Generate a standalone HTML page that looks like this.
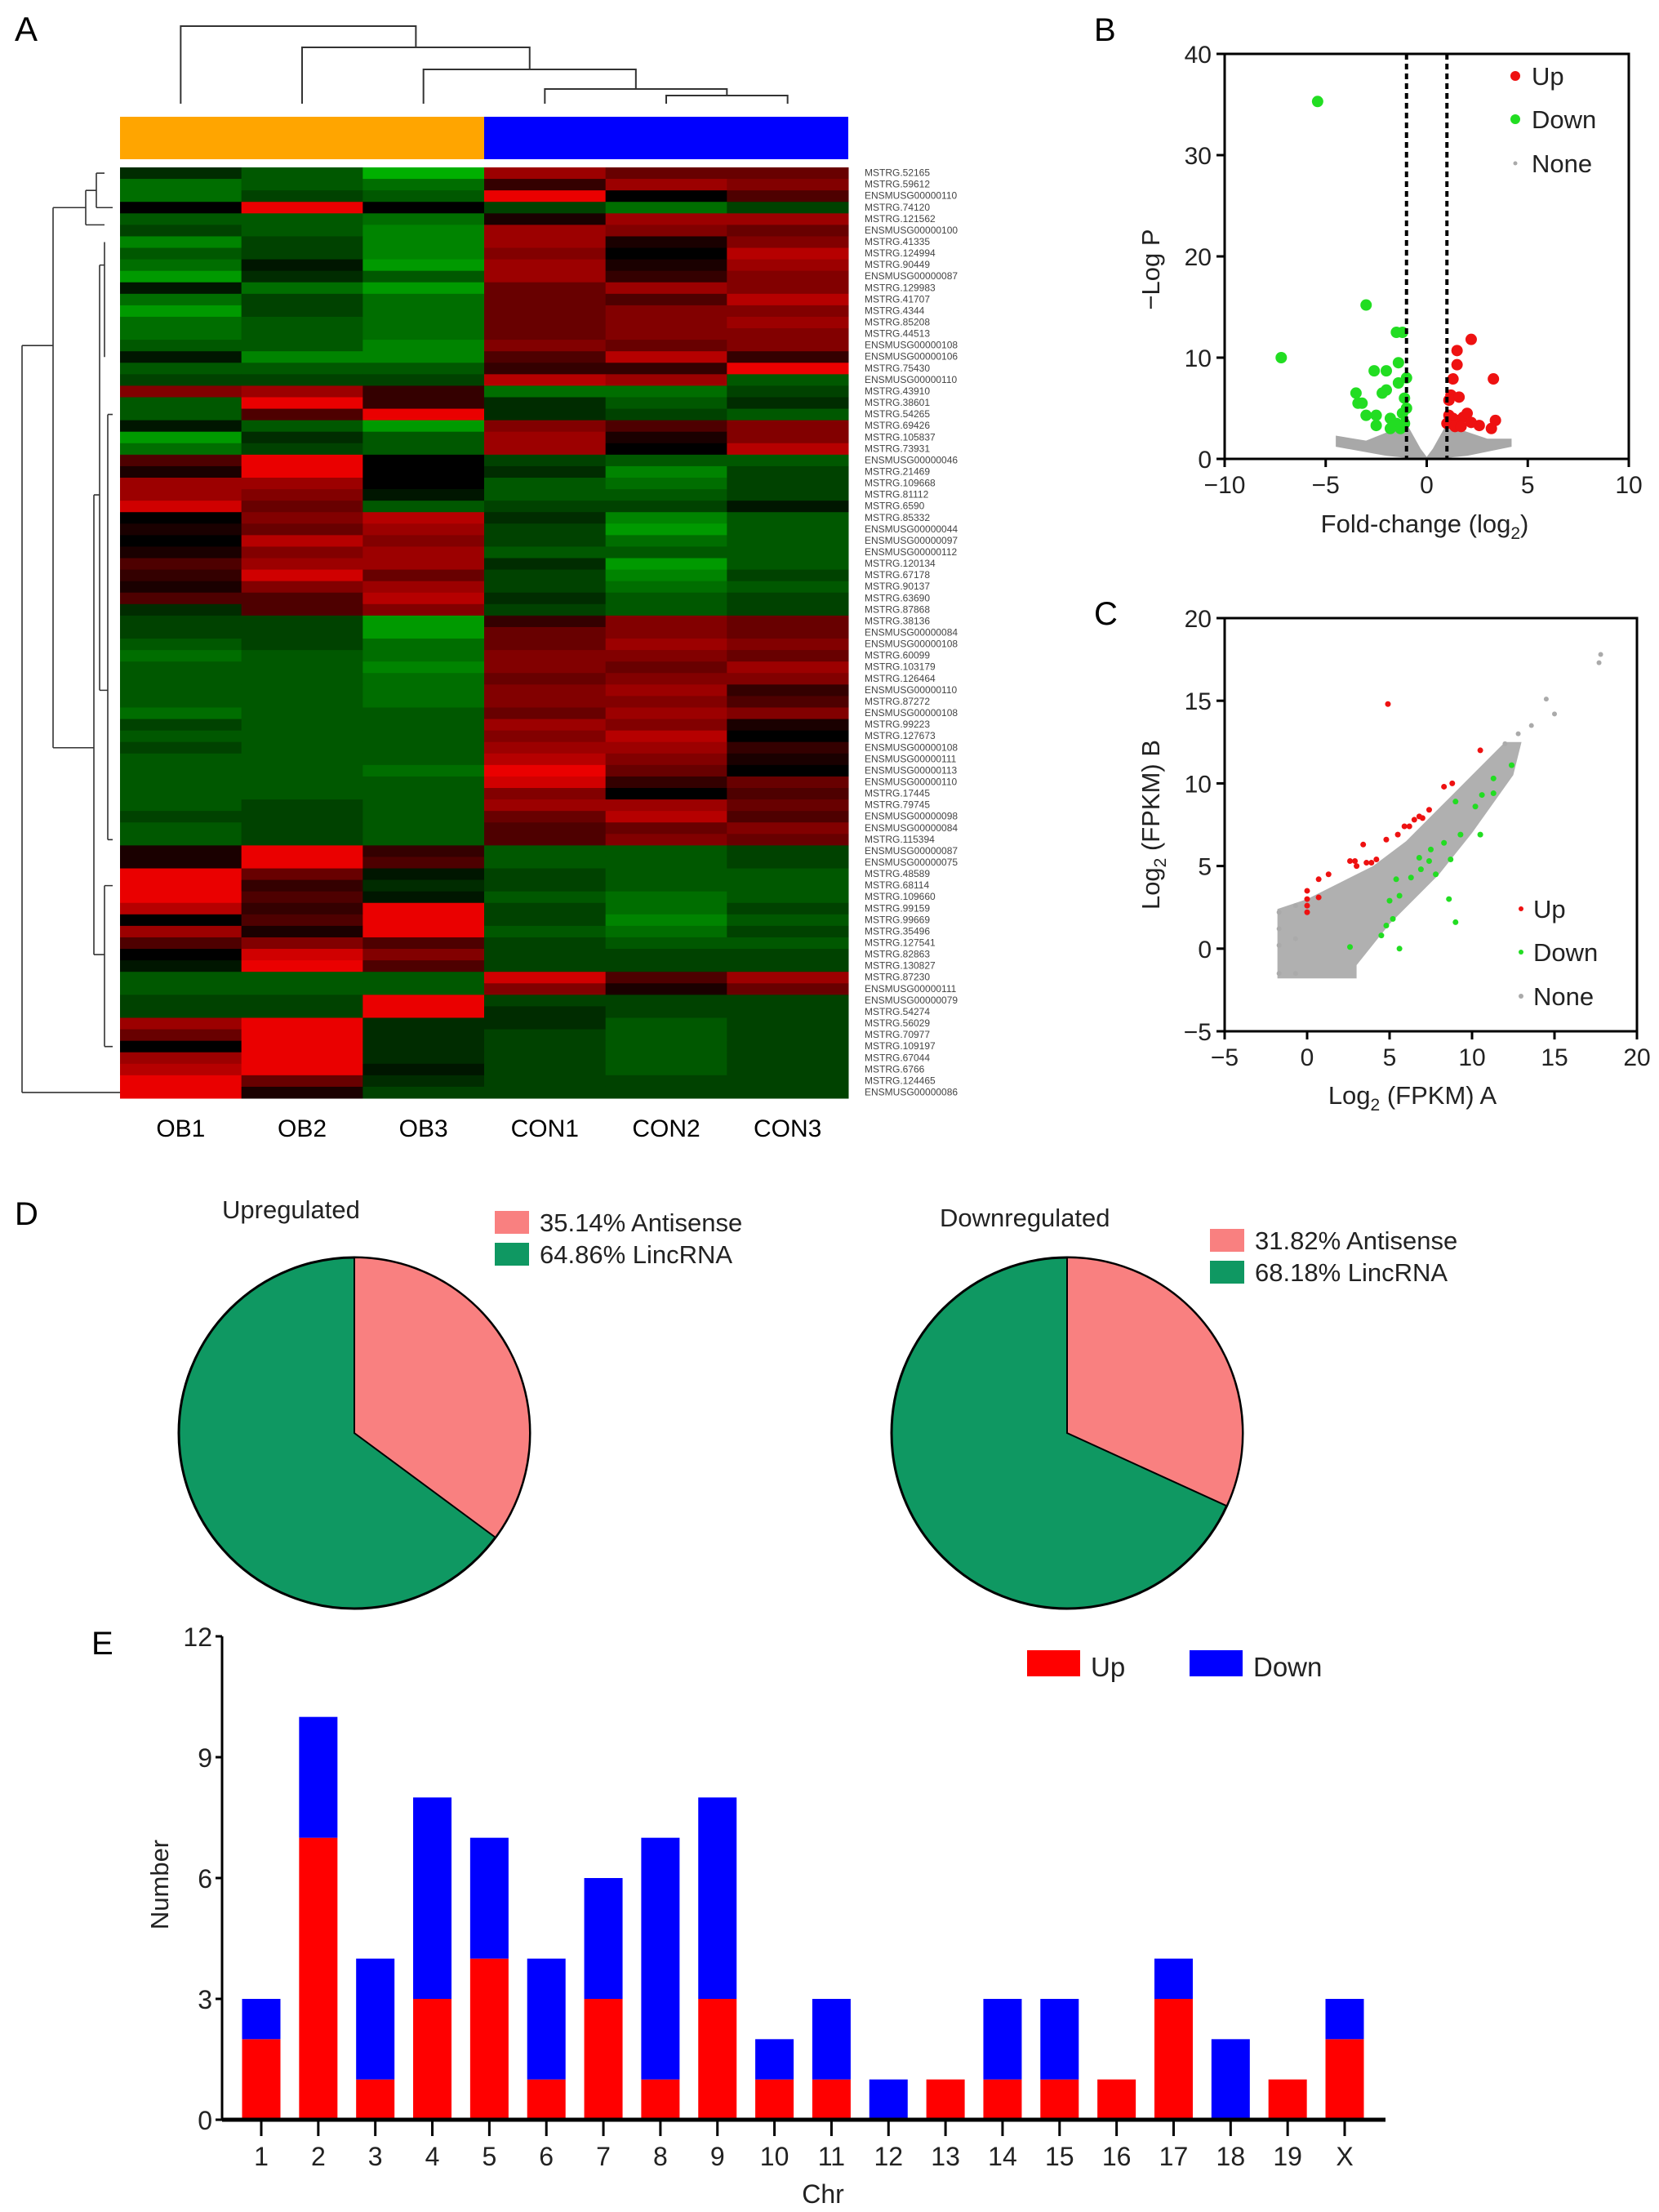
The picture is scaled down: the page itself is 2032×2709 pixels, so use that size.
<!DOCTYPE html>
<html><head><meta charset="utf-8"><style>
html,body{margin:0;padding:0;background:#fff}
svg{display:block;font-family:"Liberation Sans",Arial,sans-serif}
</style></head><body>
<svg id="fig" width="2032" height="2709" viewBox="0 0 2032 2709" xmlns="http://www.w3.org/2000/svg">
<g id="pa"></g>
<g id="pb"></g>
<g id="pc"></g>
<g id="pd"></g>
<g id="pe"></g>
</svg>
<script>
const NS="http://www.w3.org/2000/svg";
function mk(p,t,a,txt){const e=document.createElementNS(NS,t);for(const k in a)e.setAttribute(k,a[k]);if(txt!==undefined)e.textContent=txt;p.appendChild(e);return e;}

// ---------- Panel A data ----------
const hmCols=["OB1","OB2","OB3","CON1","CON2","CON3"];
const hmRows=["MSTRG.52165","MSTRG.59612","ENSMUSG00000110","MSTRG.74120","MSTRG.121562","ENSMUSG00000100","MSTRG.41335","MSTRG.124994","MSTRG.90449","ENSMUSG00000087","MSTRG.129983","MSTRG.41707","MSTRG.4344","MSTRG.85208","MSTRG.44513","ENSMUSG00000108","ENSMUSG00000106","MSTRG.75430","ENSMUSG00000110","MSTRG.43910","MSTRG.38601","MSTRG.54265","MSTRG.69426","MSTRG.105837","MSTRG.73931","ENSMUSG00000046","MSTRG.21469","MSTRG.109668","MSTRG.81112","MSTRG.6590","MSTRG.85332","ENSMUSG00000044","ENSMUSG00000097","ENSMUSG00000112","MSTRG.120134","MSTRG.67178","MSTRG.90137","MSTRG.63690","MSTRG.87868","MSTRG.38136","ENSMUSG00000084","ENSMUSG00000108","MSTRG.60099","MSTRG.103179","MSTRG.126464","ENSMUSG00000110","MSTRG.87272","ENSMUSG00000108","MSTRG.99223","MSTRG.127673","ENSMUSG00000108","ENSMUSG00000111","ENSMUSG00000113","ENSMUSG00000110","MSTRG.17445","MSTRG.79745","ENSMUSG00000098","ENSMUSG00000084","MSTRG.115394","ENSMUSG00000087","ENSMUSG00000075","MSTRG.48589","MSTRG.68114","MSTRG.109660","MSTRG.99159","MSTRG.99669","MSTRG.35496","MSTRG.127541","MSTRG.82863","MSTRG.130827","MSTRG.87230","ENSMUSG00000111","ENSMUSG00000079","MSTRG.54274","MSTRG.56029","MSTRG.70977","MSTRG.109197","MSTRG.67044","MSTRG.6766","MSTRG.124465","ENSMUSG00000086"];
const hmVals=[
[-2,-4,-8,6,4,4],[-5,-4,-5,2,6,5],[-5,-3,-4,9,0,3],[0,9,0,-3,-5,-3],[-4,-4,-5,1,6,6],[-3,-4,-6,6,5,4],[-6,-3,-6,6,1,5],[-4,-3,-6,5,0,7],[-5,-1,-7,6,1,6],[-7,-2,-4,6,2,5],
[-1,-5,-7,4,6,5],[-5,-3,-5,4,3,7],[-7,-3,-5,4,5,5],[-5,-4,-5,4,5,6],[-5,-4,-5,4,5,5],[-4,-4,-6,5,4,5],[-1,-6,-6,3,7,2],[-4,-4,-4,2,2,9],[-3,-3,-3,7,6,-4],[5,6,2,-5,-5,-3],
[-4,9,2,-2,-4,-2],[-4,3,9,-2,-3,-4],[-1,-4,-7,5,3,5],[-7,-2,-4,6,1,5],[-5,-3,-4,6,0,7],[3,9,0,-3,-4,-4],[1,9,0,-2,-6,-3],[6,6,0,-4,-5,-3],[6,5,-1,-4,-4,-3],[8,4,-4,-3,-3,-1],
[0,5,7,-2,-6,-4],[1,4,6,-3,-7,-4],[0,7,5,-3,-5,-4],[1,5,6,-4,-4,-4],[3,6,6,-2,-7,-4],[2,8,4,-3,-6,-3],[1,5,6,-3,-5,-4],[3,3,7,-2,-4,-3],[-2,3,5,-3,-4,-3],[-3,-3,-7,2,5,4],
[-3,-3,-7,4,5,4],[-4,-3,-5,4,6,5],[-5,-4,-5,5,5,4],[-4,-4,-6,5,4,6],[-4,-4,-5,4,5,5],[-4,-4,-5,5,6,2],[-4,-4,-5,5,5,3],[-5,-4,-4,4,6,5],[-3,-4,-4,6,5,1],[-4,-4,-4,5,7,0],
[-3,-4,-4,6,6,2],[-4,-4,-4,7,5,1],[-4,-4,-5,9,4,0],[-4,-4,-4,8,2,4],[-4,-4,-4,5,0,3],[-4,-3,-4,6,6,4],[-3,-3,-4,4,7,3],[-4,-3,-4,3,4,5],[-4,-3,-4,3,5,4],[1,9,2,-4,-4,-3],
[1,9,3,-4,-4,-3],[9,4,-1,-3,-4,-4],[9,2,-2,-3,-4,-4],[9,3,-1,-4,-5,-4],[7,2,9,-3,-5,-3],[0,3,9,-3,-6,-4],[6,1,9,-4,-5,-3],[3,5,3,-3,-4,-4],[0,8,5,-3,-3,-3],[-1,9,3,-3,-3,-3],
[-4,-4,-4,8,3,6],[-4,-4,-4,5,1,4],[-3,-3,9,-3,-3,-3],[-3,-3,9,-2,-3,-3],[6,9,-2,-2,-4,-3],[4,9,-2,-3,-4,-3],[0,9,-2,-3,-4,-3],[6,9,-2,-3,-4,-3],[7,9,-1,-3,-4,-3],[9,4,-2,-3,-3,-3],[9,1,-3,-3,-3,-3]];

// ---------- Panel B data ----------
const volDownX=[-5.4,-7.2,-3,-1.5,-1.2,-2.6,-2,-1.4,-3.5,-3.4,-3.2,-2.2,-1.4,-1.0,-2.5,-1.8,-1.5,-1.2,-1,-2.5,-1.3,-1.8,-1.1,-2,-3,-1.1];
const volDownY=[35.3,10,15.2,12.5,12.5,8.7,8.7,9.5,6.5,5.5,5.5,6.5,7.5,8,4.3,4,3.5,4.5,5,3.3,3,3,6,6.8,4.3,3.5];
const volUpX=[2.2,1.5,1.5,1.3,3.3,1.2,1.6,1.1,1.1,1.3,1.5,1.8,2,2.6,3.4,3.2,1.0,1.4,2.2,1.7];
const volUpY=[11.8,10.7,9.3,7.9,7.9,6.3,6.1,5.8,4.3,4,3.8,4.1,4.5,3.3,3.8,3,3.5,3.2,3.6,3.2];
const volNoneX=[-4.5,-3,-1.5,-1,-0.3,0,0.3,1,1.5,3,4.2,4.2,2,0.5,-0.5,-2,-4.5];
const volNoneY=[2.3,1.8,3,3.5,1,0.2,1,3.5,3,2,2,1.2,0.3,0,0,0.3,1.2];

// ---------- Panel C data ----------
const scUpX=[4.9,10.5,8.3,8.8,6.8,7,6.2,5.9,5.5,4.8,3.4,4.2,3.9,3.6,3,2.9,1.3,0.7,0,0,0,0,0.7,2.6,6.5,7.4];
const scUpY=[14.8,12,9.8,10,8,7.9,7.4,7.4,6.9,6.6,6.3,5.4,5.2,5.2,5,5.3,4.5,4.2,3.5,3,2.6,2.2,3.1,5.3,7.8,8.4];
const scDownX=[12.4,11.3,11.3,10.6,10.2,9,9.3,10.5,8.3,7.5,8.7,7.4,6.9,6.3,5.4,5.6,5,8.6,9,5.6,4.8,5.2,4.5,2.6,6.8,7.8];
const scDownY=[11.1,10.3,9.4,9.3,8.6,8.9,6.9,6.9,6.4,6,5.4,5.3,4.8,4.3,4.2,3.2,2.9,3,1.6,0,1.4,1.8,0.8,0.1,5.5,4.5];
const scNoneX=[17.8,17.7,14.5,15,13.6,12.8,12,-1.7,-1.7,-1.7,-1.7,-0.7,-0.7,-0.7];
const scNoneY=[17.8,17.3,15.1,14.2,13.5,13,12.4,2.2,1.2,0.2,-1.5,2.6,0.6,-1.5];
const scBandX=[-1.8,3,3,5,8,10,12.5,13,12,10,8,6,4,2,0,-1.8];
const scBandY=[-1.8,-1.8,-1,1.5,4.5,7,10.5,12.5,12.5,10.5,8.5,6.5,5,4,3,2.4];

// ---------- Panel D data ----------
const pieTitles=["Upregulated","Downregulated"];
const pieAntisense=[35.14,31.82];
const pieLinc=[64.86,68.18];

// ---------- Panel E data ----------
const chrLabels=["1","2","3","4","5","6","7","8","9","10","11","12","13","14","15","16","17","18","19","X"];
const chrUp=[2,7,1,3,4,1,3,1,3,1,1,0,1,1,1,1,3,0,1,2];
const chrDown=[1,3,3,5,3,3,3,6,5,1,2,1,0,2,2,0,1,2,0,1];
const eTicks=[0,3,6,9,12];

// ======== Panel A ========
(function(){
const g=document.getElementById('pa');
const t=mk(g,'text',{x:18,y:50,'font-size':42});
t.textContent='A';


const x0=147,x1=1039,y0=205,y1=1345;
const cw=(x1-x0)/hmCols.length, rh=(y1-y0)/hmRows.length;
const ob=mk(g,'rect',{x:x0,y:143,width:cw*3,height:52,fill:'#ffa500'});


const cb=mk(g,'rect',{x:x0+cw*3,y:143,width:cw*3,height:52,fill:'#0000ff'});


function col(v){const a=Math.abs(v);if(v>=0)return 'rgb('+Math.min(240,Math.round(a*26))+',0,0)';return 'rgb(0,'+Math.min(200,Math.round(a*22))+',0)';}
hmVals.forEach((row,i)=>{row.forEach((v,j)=>{
 const r=mk(g,'rect',{x:x0+j*cw,y:y0+i*rh,width:cw+0.5,height:rh+0.5,fill:col(v)});
 
 
});
 const l=mk(g,'text',{x:1059,y:y0+i*rh+rh*0.75,'font-size':12,fill:'#444','font-family':'Liberation Sans Narrow, Liberation Sans, sans-serif'},hmRows[i]);
 
 
});
hmCols.forEach((c,j)=>{
 const l=mk(g,'text',{x:x0+(j+.5)*cw,y:1392,'font-size':30,'text-anchor':'middle'},c);
 
 
});
const cx=j=>x0+(j+.5)*cw;
const d='M'+cx(4)+',127V117H'+cx(5)+'V127 M'+cx(3)+',127V109H'+((cx(4)+cx(5))/2)+'V117 M'+cx(2)+',127V85H'+((cx(3)+(cx(4)+cx(5))/2)/2)+'V109 M'+cx(1)+',127V58H'+((cx(2)+(cx(3)+(cx(4)+cx(5))/2)/2)/2)+'V85 M'+cx(0)+',127V32H'+((cx(1)+(cx(2)+(cx(3)+(cx(4)+cx(5))/2)/2)/2)/2)+'V58';
const td=mk(g,'path',{d:d,fill:'none',stroke:'#333','stroke-width':2});


const ry=i=>y0+(i+.5)*rh;
const ld='M27,'+ry(15)+'V'+ry(80)+' M27,'+ry(15)+'H65 M27,'+ry(80)+'H138 M65,'+ry(3)+'V'+ry(50)+' M65,'+ry(3)+'H105 M65,'+ry(50)+'H115 M105,'+ry(1.5)+'V'+ry(4.5)+' M105,'+ry(1.5)+'H118 M105,'+ry(4.5)+'H128 M118,'+ry(0)+'V'+ry(3)+' M118,'+ry(0)+'H128 M118,'+ry(3)+'H138 M115,'+ry(28)+'V'+ry(68)+' M115,'+ry(28)+'H122 M115,'+ry(68)+'H128 M122,'+ry(8)+'V'+ry(45)+' M122,'+ry(8)+'H128 M122,'+ry(45)+'H132 M128,'+ry(62)+'V'+ry(76)+' M128,'+ry(62)+'H138 M128,'+ry(76)+'H138 M132,'+ry(21)+'V'+ry(58)+' M132,'+ry(21)+'H138 M132,'+ry(58)+'H138 M128,'+ry(6)+'V'+ry(16)+' M138,'+ry(80)+'H147';
const lp=mk(g,'path',{d:ld,fill:'none',stroke:'#333','stroke-width':1.6});


})();

// ======== Panel B ========
(function(){
const g=document.getElementById('pb');
const L=1500,R=1995,T=66,B=562;
const X=v=>L+(v+10)/20*(R-L), Y=v=>B-v/40*(B-T);
const lab=mk(g,'text',{x:1340,y:50,'font-size':40},'B');


let pts=volNoneX.map((x,i)=>X(x)+','+Y(volNoneY[i])).join(' ');
const poly=mk(g,'polygon',{points:pts,fill:'#a8a8a8'});


volDownX.forEach((x,i)=>{const c=mk(g,'circle',{cx:X(x),cy:Y(volDownY[i]),r:7,fill:'#22dd22'});

});
volUpX.forEach((x,i)=>{const c=mk(g,'circle',{cx:X(x),cy:Y(volUpY[i]),r:7,fill:'#ee1111'});

});
[-1,1].forEach(v=>{const l=mk(g,'line',{x1:X(v),x2:X(v),y1:T,y2:B,stroke:'#000','stroke-width':4,'stroke-dasharray':'7,5'});

});
const fr=mk(g,'rect',{x:L,y:T,width:R-L,height:B-T,fill:'none',stroke:'#000','stroke-width':3});


[0,10,20,30,40].forEach(v=>{mk(g,'line',{x1:L-10,x2:L,y1:Y(v),y2:Y(v),stroke:'#000','stroke-width':3});
const t=mk(g,'text',{x:L-16,y:Y(v)+11,'font-size':30,'text-anchor':'end',fill:'#222'},v);

});
[-10,-5,0,5,10].forEach(v=>{mk(g,'line',{x1:X(v),x2:X(v),y1:B,y2:B+10,stroke:'#000','stroke-width':3});
const t=mk(g,'text',{x:X(v),y:B+42,'font-size':30,'text-anchor':'middle',fill:'#222'},v<0?'\u2212'+(-v):v);

});
const xt=mk(g,'text',{x:1745,y:652,'font-size':31,'text-anchor':'middle',fill:'#222'});
xt.innerHTML='Fold-change (log<tspan font-size="21" dy="8">2</tspan><tspan dy="-8">)</tspan>';


const yt=mk(g,'text',{x:0,y:0,'font-size':31,'text-anchor':'middle',fill:'#222',transform:'translate(1420,330) rotate(-90)'},'\u2212Log P');


[['Up','#ee1111',6,93],['Down','#22dd22',6,146],['None','#aaa',2.5,200]].forEach(e=>{
 const c=mk(g,'circle',{cx:1856,cy:e[3],r:e[2],fill:e[1]});
 
 
 const t=mk(g,'text',{x:1876,y:e[3]+11,'font-size':31,fill:'#222'},e[0]);
 
 
});
})();

// ======== Panel C ========
(function(){
const g=document.getElementById('pc');
const L=1500,R=2005,T=757,B=1263;
const X=v=>L+(v+5)/25*(R-L), Y=v=>B-(v+5)/25*(B-T);
const lab=mk(g,'text',{x:1340,y:765,'font-size':40},'C');


const poly=mk(g,'polygon',{points:scBandX.map((x,i)=>X(x)+','+Y(scBandY[i])).join(' '),fill:'#b0b0b0'});


scNoneX.forEach((x,i)=>{const c=mk(g,'circle',{cx:X(x),cy:Y(scNoneY[i]),r:3,fill:'#aaa'});

});
scUpX.forEach((x,i)=>{const c=mk(g,'circle',{cx:X(x),cy:Y(scUpY[i]),r:3.5,fill:'#ee1111'});

});
scDownX.forEach((x,i)=>{const c=mk(g,'circle',{cx:X(x),cy:Y(scDownY[i]),r:3.5,fill:'#22dd22'});

});
const fr=mk(g,'rect',{x:L,y:T,width:R-L,height:B-T,fill:'none',stroke:'#000','stroke-width':3});


[-5,0,5,10,15,20].forEach(v=>{mk(g,'line',{x1:L-10,x2:L,y1:Y(v),y2:Y(v),stroke:'#000','stroke-width':3});
const t=mk(g,'text',{x:L-16,y:Y(v)+11,'font-size':30,'text-anchor':'end',fill:'#222'},v<0?'\u2212'+(-v):v);


mk(g,'line',{x1:X(v),x2:X(v),y1:B,y2:B+10,stroke:'#000','stroke-width':3});
const t2=mk(g,'text',{x:X(v),y:B+42,'font-size':30,'text-anchor':'middle',fill:'#222'},v<0?'\u2212'+(-v):v);

});
const xt=mk(g,'text',{x:1730,y:1352,'font-size':31,'text-anchor':'middle',fill:'#222'});
xt.innerHTML='Log<tspan font-size="21" dy="8">2</tspan><tspan dy="-8"> (FPKM) A</tspan>';


const yt=mk(g,'text',{x:0,y:0,'font-size':31,'text-anchor':'middle',fill:'#222',transform:'translate(1420,1010) rotate(-90)'});
yt.innerHTML='Log<tspan font-size="21" dy="8">2</tspan><tspan dy="-8"> (FPKM) B</tspan>';


[['Up','#ee1111',1113],['Down','#22dd22',1166],['None','#aaa',1220]].forEach(e=>{
 const c=mk(g,'circle',{cx:1863,cy:e[2],r:3,fill:e[1]});
 
 
 const t=mk(g,'text',{x:1878,y:e[2]+11,'font-size':31,fill:'#222'},e[0]);
 
 
});
})();

// ======== Panel D ========
(function(){
const g=document.getElementById('pd');
const lab=mk(g,'text',{x:18,y:1500,'font-size':40},'D');


const centers=[[434,1755],[1307,1755]], r=215;
const titlePos=[[272,1492],[1151,1502]];
const legPos=[[606,1483],[1482,1505]];
pieTitles.forEach((ti,i)=>{
 const [cx,cy]=centers[i];
 const a=pieAntisense[i]/(pieAntisense[i]+pieLinc[i])*2*Math.PI;
 const ex=cx+r*Math.sin(a), ey=cy-r*Math.cos(a);
 const lc=mk(g,'circle',{cx:cx,cy:cy,r:r,fill:'#0f9862',stroke:'#000','stroke-width':3});
 
 
 const s=mk(g,'path',{d:'M'+cx+','+cy+'L'+cx+','+(cy-r)+'A'+r+','+r+' 0 '+(a>Math.PI?1:0)+' 1 '+ex+','+ey+'Z',fill:'#f98080',stroke:'#000','stroke-width':2});
 
 
 const t=mk(g,'text',{x:titlePos[i][0],y:titlePos[i][1],'font-size':31,fill:'#222'},ti);
 
 
 const [lx,ly]=legPos[i];
 const s1=mk(g,'rect',{x:lx,y:ly,width:42,height:28,fill:'#f98080'});
 
 
 const s2=mk(g,'rect',{x:lx,y:ly+39,width:42,height:28,fill:'#0f9862'});
 
 
 const t1=mk(g,'text',{x:lx+55,y:ly+25,'font-size':31,fill:'#222'},pieAntisense[i].toFixed(2)+'% Antisense');
 
 
 const t2=mk(g,'text',{x:lx+55,y:ly+64,'font-size':31,fill:'#222'},pieLinc[i].toFixed(2)+'% LincRNA');
 
 
});
})();

// ======== Panel E ========
(function(){
const g=document.getElementById('pe');
const L=272,R=1697,T=2004,B=2596;
const Y=v=>B-v/12*(B-T);
const step=(1647-320)/19, X=i=>320+i*step, bw=47;
const NF='"Liberation Sans Narrow","Liberation Sans",sans-serif';
const lab=mk(g,'text',{x:112,y:2026,'font-size':40},'E');


chrLabels.forEach((c,i)=>{
 const up=mk(g,'rect',{x:X(i)-bw/2,y:Y(chrUp[i]),width:bw,height:B-Y(chrUp[i]),fill:'#ff0000'});
 
 
 const dn=mk(g,'rect',{x:X(i)-bw/2,y:Y(chrUp[i]+chrDown[i]),width:bw,height:Y(chrUp[i])-Y(chrUp[i]+chrDown[i]),fill:'#0000ff'});
 
 
 mk(g,'line',{x1:X(i),x2:X(i),y1:B,y2:B+20,stroke:'#000','stroke-width':3});
 const t=mk(g,'text',{x:X(i),y:2652,'font-size':32,'text-anchor':'middle','font-family':NF,fill:'#222'},c);
 
 
});
mk(g,'line',{x1:L,x2:L,y1:T,y2:B,stroke:'#000','stroke-width':3});
mk(g,'line',{x1:L,x2:R,y1:B,y2:B,stroke:'#000','stroke-width':5});
eTicks.forEach(v=>{mk(g,'line',{x1:L-8,x2:L,y1:Y(v),y2:Y(v),stroke:'#000','stroke-width':3});
const t=mk(g,'text',{x:L-12,y:Y(v)+12,'font-size':32,'text-anchor':'end','font-family':NF,fill:'#222'},v);

});
const xt=mk(g,'text',{x:1008,y:2698,'font-size':32,'text-anchor':'middle','font-family':NF,fill:'#222'},'Chr');


const yt=mk(g,'text',{x:0,y:0,'font-size':31,'text-anchor':'middle',fill:'#222',transform:'translate(206,2308) rotate(-90)'},'Number');


const s1=mk(g,'rect',{x:1258,y:2021,width:65,height:32,fill:'#ff0000'});


const t1=mk(g,'text',{x:1336,y:2053,'font-size':33,'font-family':NF,fill:'#222'},'Up');


const s2=mk(g,'rect',{x:1457,y:2021,width:65,height:32,fill:'#0000ff'});


const t2=mk(g,'text',{x:1535,y:2053,'font-size':33,'font-family':NF,fill:'#222'},'Down');


})();
</script>
</body></html>
